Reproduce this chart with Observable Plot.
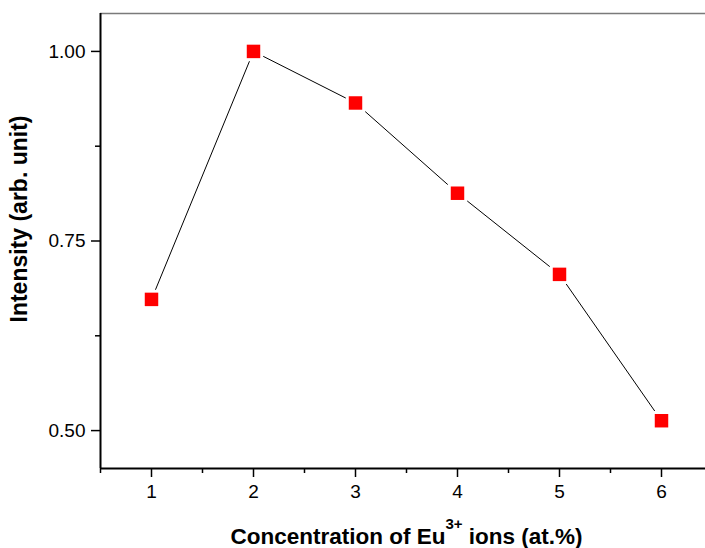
<!DOCTYPE html>
<html><head><meta charset="utf-8">
<script src="https://cdn.jsdelivr.net/npm/d3@7"></script>
<script src="https://cdn.jsdelivr.net/npm/@observablehq/plot@0.6"></script>
<style>
html,body{margin:0;padding:0;background:#fff;overflow:hidden}
#chart svg{overflow:hidden;display:block}
</style></head><body><div id="chart"></div>
<script>
const concentration = [1, 2, 3, 4, 5, 6];
const intensity = [0.673, 1.000, 0.932, 0.813, 0.706, 0.513];
const xTicks = [1, 2, 3, 4, 5, 6];
const xMinorTicks = [0.5, 1.5, 2.5, 3.5, 4.5, 5.5, 6.5];
const yTicks = [0.50, 0.75, 1.00];
const yMinorTicks = [0.625, 0.875];
const xLabelParts = ["Concentration of Eu", "3+", " ions (at.%)"];
const yLabel = "Intensity (arb. unit)";

const data = concentration.map((c, i) => ({c, v: intensity[i]}));
const xLabel = xLabelParts.join("");
const font = "'Liberation Sans', Arial, Helvetica, sans-serif";

const plot = Plot.plot({
  width: 705, height: 548,
  marginLeft: 100, marginRight: 0, marginTop: 13, marginBottom: 80,
  style: {fontFamily: font, background: "#fff", color: "#000", overflow: "hidden"},
  x: {domain: [0.5, 6.5], range: [100, 712], label: null},
  y: {domain: [0.45, 1.05], label: null},
  marks: [
    Plot.ruleY([1.05], {stroke: "#7a7a7a", strokeWidth: 1.5}),
    Plot.axisX(xMinorTicks, {tickSize: 5, tickFormat: () => "", strokeWidth: 1.5, label: null}),
    Plot.axisX(xTicks, {tickSize: 9, tickPadding: 7, fontSize: 19, tickFormat: d => String(d), strokeWidth: 1.5, label: null}),
    Plot.axisY(yMinorTicks, {tickSize: 5, tickFormat: () => "", strokeWidth: 1.5, label: null}),
    Plot.axisY(yTicks, {tickSize: 9, tickPadding: 6, fontSize: 19, tickFormat: d3.format(".2f"), strokeWidth: 1.5, label: null}),
    Plot.ruleX([0.5], {stroke: "#000", strokeWidth: 2}),
    Plot.ruleY([0.45], {stroke: "#000", strokeWidth: 2}),
    Plot.line(data, {x: "c", y: "v", stroke: "#000", strokeWidth: 1}),
    Plot.dot(data, {x: "c", y: "v", symbol: "square", r: 7.6, fill: "#ff0000", stroke: "#fff", strokeWidth: 6, paintOrder: "stroke"}),
    Plot.text([yLabel], {frameAnchor: "left", dx: -81, dy: -22, rotate: -90, fontSize: 23, fontWeight: "bold", textAnchor: "middle", lineAnchor: "middle", fill: "#000"}),
    Plot.text([xLabel], {frameAnchor: "bottom", dx: 3.5, dy: 75, fontSize: 22.5, fontWeight: "bold", textAnchor: "middle", lineAnchor: "bottom", fill: "#000"})
  ]
});

document.getElementById("chart").appendChild(plot);

// superscript in the x-axis title
d3.select(plot).selectAll("text").filter(function() { return this.textContent === xLabel; }).each(function() {
  const t = d3.select(this);
  t.text(null);
  t.append("tspan").text(xLabelParts[0]);
  t.append("tspan").attr("font-size", 15).attr("dy", -15).text(xLabelParts[1]);
  t.append("tspan").attr("dy", 15).text(xLabelParts[2]);
});
</script></body></html>
